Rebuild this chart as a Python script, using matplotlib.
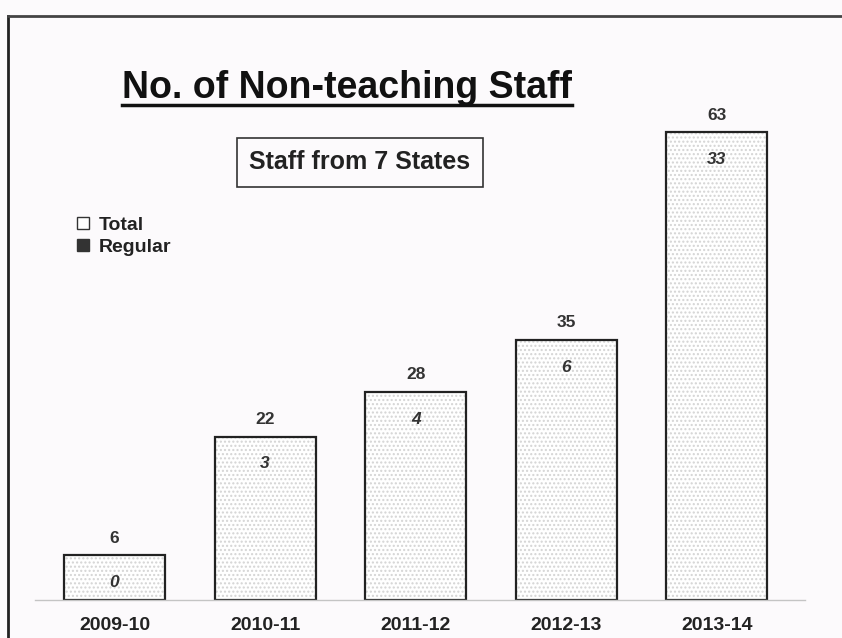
import matplotlib
matplotlib.use("Agg")
import matplotlib.pyplot as plt
from matplotlib.lines import Line2D
from matplotlib.patches import Patch

years = ["2009-10", "2010-11", "2011-12", "2012-13", "2013-14"]
total = [6, 22, 28, 35, 63]
regular = [0, 3, 4, 6, 33]

plt.rcParams['font.family'] = ['Liberation Sans', 'DejaVu Sans']

W, H = 842, 638
fig = plt.figure(figsize=(W / 100, H / 100), dpi=100)
bg = "#fcfafc"
fig.patch.set_facecolor(bg)

# axes: x pixels 0..842, y pixels 15..600
ax = fig.add_axes([0, 38 / H, 1, 585 / H])
ax.set_facecolor("none")
x = list(range(len(years)))
ax.bar(x, total, width=0.67, color="white", edgecolor="#d4d4d4", hatch="....", linewidth=0, zorder=1)
ax.bar(x, total, width=0.67, fill=False, edgecolor="#222222", linewidth=1.6, zorder=2)
ax.set_xlim(-0.760, 4.831)
ax.set_ylim(0, 78.8)
ax.axis("off")

for xi, t, r in zip(x, total, regular):
    ax.annotate(str(t), (xi, t), xytext=(0, 7), textcoords="offset points",
                ha="center", va="bottom", fontsize=12.5, fontweight="bold", color="#333333")
    ax.annotate(str(r), (xi, t), xytext=(0, -14), textcoords="offset points",
                ha="center", va="top", fontsize=12.5, fontweight="bold", style="italic", color="#333333")

for xi, lab in zip(x, years):
    ax.annotate(lab, (xi, 0), xytext=(0, -12), textcoords="offset points",
                ha="center", va="top", fontsize=14, fontweight="bold", color="#222222")

# baseline
fig.add_artist(Line2D([35 / W, 805 / W], [1 - 600 / H] * 2, color="#c4c4c4", lw=1))

# page frame
fig.add_artist(Line2D([8 / W, 8 / W], [0, 1 - 16 / H], color="#222222", lw=2))
fig.add_artist(Line2D([8 / W, 1], [1 - 16 / H] * 2, color="#444444", lw=2))

# title
fig.text(347 / W, 1 - 88 / H, "No. of Non-teaching Staff", ha="center", va="center",
         fontsize=27, fontweight="bold", color="#111111")
fig.add_artist(Line2D([122 / W, 572 / W], [1 - 105 / H] * 2, color="#111111", lw=2.5))

# subtitle box
fig.text(360 / W, 1 - 162 / H, "Staff from 7 States", ha="center", va="center",
         fontsize=18, fontweight="bold", color="#222222",
         bbox=dict(boxstyle="square,pad=0.5", facecolor="none", edgecolor="#333333", lw=1.2))

# legend
handles = [Patch(facecolor="white", edgecolor="#333333", lw=1),
           Patch(facecolor="#333333", edgecolor="#333333", lw=1)]
leg = fig.legend(handles, ["Total", "Regular"], loc="upper left",
                 bbox_to_anchor=(77 / W, 1 - 217 / H), frameon=False,
                 handlelength=0.6, handleheight=0.6, handletextpad=0.5,
                 labelspacing=0.25, borderpad=0, borderaxespad=0,
                 prop=dict(size=14, weight="bold"))
for t in leg.get_texts():
    t.set_color("#222222")

fig.savefig("out.png", dpi=100, facecolor=bg)
